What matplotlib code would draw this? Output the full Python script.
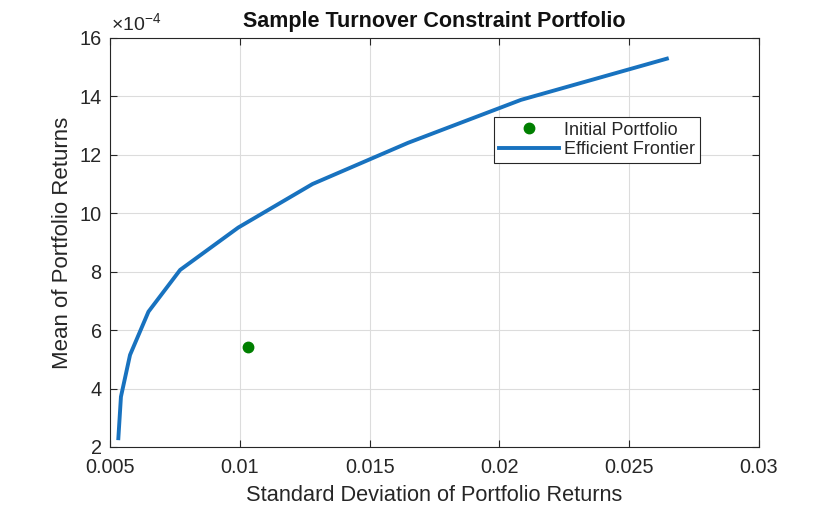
#!/usr/bin/env python3

import numpy as np
import matplotlib
matplotlib.use("Agg")
import matplotlib.pyplot as plt
from matplotlib.ticker import FuncFormatter

# ─── STYLE ──────────────────────────────────────────────────────────────
plt.rcParams.update({
    "font.family": ["Liberation Sans", "DejaVu Sans"],
    "mathtext.fontset": "custom",
    "mathtext.rm": "Liberation Sans",
    "text.color": "#262626",
    "axes.labelcolor": "#262626",
    "xtick.color": "#262626",
    "ytick.color": "#262626",
})

# ─── DATA ───────────────────────────────────────────────────────────────
frontier_risk = [0.00532, 0.00542, 0.00577, 0.00648, 0.00770, 0.00994,
                 0.01280, 0.01648, 0.02083, 0.02645]
frontier_ret = [2.30e-4, 3.72e-4, 5.15e-4, 6.63e-4, 8.06e-4, 9.51e-4,
                11.0e-4, 12.41e-4, 13.88e-4, 15.29e-4]

init_risk = [0.01033]
init_ret = [5.41e-4]

xticks = [0.005, 0.01, 0.015, 0.02, 0.025, 0.03]
xtick_labels = ["0.005", "0.01", "0.015", "0.02", "0.025", "0.03"]
yticks = [2e-4, 4e-4, 6e-4, 8e-4, 10e-4, 12e-4, 14e-4, 16e-4]

# ─── PLOT ───────────────────────────────────────────────────────────────
fig = plt.figure(figsize=(8.4, 5.05), dpi=100)
ax = fig.add_axes([0.131, 0.1149, 0.7726, 0.81])

ax.plot(init_risk, init_ret, "o", color="#007F00", markersize=7.5,
        label="Initial Portfolio", zorder=3)
ax.plot(frontier_risk, frontier_ret, "-", color="#1872BF", linewidth=2.8,
        label="Efficient Frontier", zorder=2)

ax.set_xlim(0.005, 0.03)
ax.set_ylim(2e-4, 16e-4)
ax.set_xticks(xticks)
ax.set_xticklabels(xtick_labels)
ax.set_yticks(yticks)
ax.yaxis.set_major_formatter(FuncFormatter(lambda v, p: f"{v / 1e-4:.0f}"))

ax.tick_params(direction="in", top=True, right=True, labelsize=14.3,
               length=5, width=0.8)
ax.tick_params(axis="x", pad=8)
ax.tick_params(axis="y", pad=6)
ax.grid(True, color="#DCDCDC", linewidth=0.8)
ax.set_axisbelow(True)
for s in ax.spines.values():
    s.set_color("#262626")
    s.set_linewidth(0.8)

ax.text(0.002, 1.016, r"×10$^{\mathregular{-4}}$", transform=ax.transAxes,
        fontsize=14, ha="left", va="baseline", color="#262626")

ax.set_title("Sample Turnover Constraint Portfolio", fontsize=15.5,
             fontweight="bold", pad=8, color="#111111")
ax.set_xlabel("Standard Deviation of Portfolio Returns", fontsize=15.7,
              labelpad=6)
ax.set_ylabel("Mean of Portfolio Returns", fontsize=16, labelpad=5)

leg = ax.legend(loc="upper left", bbox_to_anchor=(494 / 840, 1 - 116.7 / 505),
                bbox_transform=fig.transFigure,
                fontsize=13, frameon=True, fancybox=False,
                borderpad=0.28, handlelength=3.3, handletextpad=0.3,
                labelspacing=0.12, borderaxespad=0)
leg.get_frame().set_edgecolor("#262626")
leg.get_frame().set_linewidth(0.8)
leg.get_frame().set_alpha(1)

fig.savefig("out.png", dpi=100)
